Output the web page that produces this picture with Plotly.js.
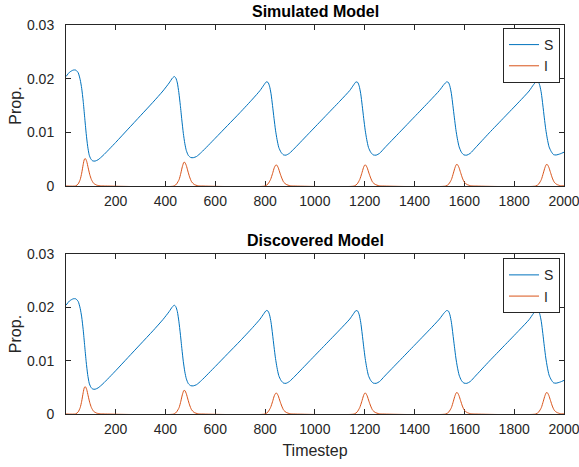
<!DOCTYPE html>
<html>
<head>
<meta charset="utf-8">
<script src="https://cdn.plot.ly/plotly-3.0.1.min.js"></script>
<style>html,body{margin:0;padding:0;background:#fff;}#chart{width:579px;height:467px;}</style>
</head>
<body>
<div id="chart"></div>
<script>
// ---- data ----
var titles = ["Simulated Model", "Discovered Model"];
var seriesNames = ["S", "I"];
var xTickVals = [200, 400, 600, 800, 1000, 1200, 1400, 1600, 1800, 2000];
var yTickVals = [0, 0.01, 0.02, 0.03];
var yTickText = ["0", "0.01", "0.02", "0.03"];

var tS = [1, 15, 30, 40, 50, 58, 64, 70, 76, 82, 88, 94, 100, 108, 118, 130, 150, 200, 250, 300, 350, 390, 415, 428, 436,
  442, 448, 454, 460, 466, 472, 478, 484, 492, 502, 512, 525, 545, 600, 650, 700, 750, 780, 795, 805,
  812, 818, 824, 830, 836, 842, 848, 855, 864, 874, 884, 898, 920, 980, 1040, 1100, 1140, 1155, 1165,
  1172, 1178, 1184, 1190, 1196, 1202, 1208, 1215, 1224, 1234, 1246, 1260, 1280, 1340, 1400, 1460, 1500, 1518, 1529,
  1536, 1542, 1548, 1554, 1560, 1566, 1572, 1579, 1588, 1598, 1610, 1624, 1644, 1700, 1760, 1820, 1860, 1878, 1890,
  1897, 1903, 1909, 1915, 1921, 1927, 1933, 1940, 1949, 1958, 1968, 1985, 2000];
var vS = [0.0204, 0.0212, 0.0216, 0.0216, 0.0211, 0.0198, 0.0182, 0.0158, 0.0128, 0.0098, 0.0074, 0.0058, 0.0051, 0.00468, 0.00465, 0.0049, 0.0057, 0.0081, 0.0106, 0.0131, 0.0156, 0.0177, 0.0192, 0.0201, 0.0204,
  0.0201, 0.0192, 0.0174, 0.0150, 0.0123, 0.0098, 0.0079, 0.0066, 0.0057, 0.0053, 0.00528, 0.0055, 0.0063, 0.0089, 0.0113, 0.0137, 0.0162, 0.0178, 0.0188, 0.0194,
  0.0193, 0.0186, 0.0172, 0.0150, 0.0126, 0.0104, 0.0087, 0.0072, 0.0063, 0.0058, 0.00575, 0.0061, 0.0071, 0.0100, 0.0129, 0.0158, 0.0178, 0.0188, 0.0194,
  0.0193, 0.0186, 0.0172, 0.0150, 0.0126, 0.0104, 0.0087, 0.0072, 0.0063, 0.0058, 0.00575, 0.0061, 0.0071, 0.0100, 0.0129, 0.0158, 0.0178, 0.0189, 0.0194,
  0.0193, 0.0186, 0.0172, 0.0150, 0.0127, 0.0105, 0.0088, 0.0073, 0.0063, 0.0058, 0.00575, 0.0061, 0.0071, 0.0099, 0.0128, 0.0157, 0.0177, 0.0189, 0.0195,
  0.0194, 0.0187, 0.0173, 0.0151, 0.0127, 0.0105, 0.0088, 0.0073, 0.0064, 0.00585, 0.00578, 0.0060, 0.0063];

var tI = [1, 40, 50, 58, 64, 70, 75, 79, 84, 90, 96, 103, 112, 125, 140, 160,
  435, 445, 455, 462, 468, 474, 478, 484, 490, 497, 505, 515, 530, 545,
  800, 812, 822, 830, 837, 843, 847, 853, 860, 867, 875, 885, 900, 915,
  1158, 1170, 1180, 1188, 1195, 1200, 1204, 1210, 1217, 1224, 1232, 1242, 1257, 1272,
  1526, 1538, 1548, 1556, 1563, 1568, 1572, 1578, 1585, 1592, 1600, 1610, 1625, 1640,
  1887, 1899, 1909, 1917, 1924, 1929, 1933, 1939, 1946, 1953, 1961, 1971, 1986, 2000];
var vI = [0, 0.00002, 0.0004, 0.0012, 0.0024, 0.0040, 0.0050, 0.0051, 0.0046, 0.0034, 0.0022, 0.0012, 0.0005, 0.00015, 0.00003, 0,
  0, 0.0004, 0.0012, 0.0024, 0.0036, 0.0044, 0.0044, 0.0038, 0.0028, 0.0017, 0.0008, 0.0003, 0.00005, 0,
  0, 0.0004, 0.0012, 0.0023, 0.0034, 0.0039, 0.0039, 0.0034, 0.0024, 0.0015, 0.0007, 0.0003, 0.00005, 0,
  0, 0.0004, 0.0012, 0.0023, 0.0034, 0.0039, 0.0039, 0.0034, 0.0024, 0.0015, 0.0007, 0.0003, 0.00005, 0,
  0, 0.0004, 0.0012, 0.0024, 0.0035, 0.0040, 0.0040, 0.0035, 0.0025, 0.0015, 0.0007, 0.0003, 0.00005, 0,
  0, 0.0004, 0.0012, 0.0024, 0.0035, 0.0040, 0.0040, 0.0035, 0.0025, 0.0015, 0.0007, 0.0003, 0.00005, 0.00002];

// ---- styling ----
var FONT = "Liberation Sans, Arial, Helvetica, sans-serif";
var AX = "#262626";
var colS = "#0072BD", colI = "#D95319";

function trace(x, y, name, color, xa, ya, lg) {
  return {x: x, y: y, name: name, type: "scatter", mode: "lines",
    line: {color: color, width: 1, shape: "spline", smoothing: 0.6},
    xaxis: xa, yaxis: ya, legend: lg, hoverinfo: "skip"};
}
var data = [
  trace(tS, vS, seriesNames[0], colS, "x", "y", "legend"),
  trace(tI, vI, seriesNames[1], colI, "x", "y", "legend"),
  trace(tS, vS, seriesNames[0], colS, "x2", "y2", "legend2"),
  trace(tI, vI, seriesNames[1], colI, "x2", "y2", "legend2")
];

function xax(anchor, withTitle) {
  var a = {anchor: anchor, domain: [0, 1], range: [1, 2000], tickmode: "array", tickvals: xTickVals,
    ticks: "inside", ticklen: 5, tickcolor: AX, showline: true, linecolor: AX, linewidth: 1,
    mirror: "ticks", showgrid: false, zeroline: false, layer: "below traces",
    ticklabeloverflow: "allow",
    tickfont: {family: FONT, size: 14, color: AX}, ticklabelstandoff: 2};
  if (withTitle) a.title = {text: "Timestep", font: {family: FONT, size: 16, color: AX}, standoff: 9};
  return a;
}
function yax(anchor, dom) {
  return {anchor: anchor, domain: dom, range: [0, 0.03], tickmode: "array", tickvals: yTickVals, ticktext: yTickText,
    ticks: "inside", ticklen: 5, tickcolor: AX, showline: true, linecolor: AX, linewidth: 1,
    mirror: "ticks", showgrid: false, zeroline: false,
    tickfont: {family: FONT, size: 14, color: AX}, ticklabelstandoff: 8,
    title: {text: "Prop.", font: {family: FONT, size: 16, color: AX}, standoff: 1}};
}
function lg(y) {
  return {x: 0.992, xanchor: "right", y: y, yanchor: "top", bgcolor: "#fff", bordercolor: AX, borderwidth: 1,
    font: {family: FONT, size: 14, color: AX}, itemwidth: 30, tracegroupgap: 0};
}

var layout = {
  width: 579, height: 467,
  margin: {l: 66, r: 15, t: 25, b: 53},
  paper_bgcolor: "#fff", plot_bgcolor: "#fff",
  font: {family: FONT, color: AX},
  showlegend: true,
  xaxis: xax("y", false),
  yaxis: yax("x", [0.5861, 1]),
  xaxis2: xax("y2", true),
  yaxis2: yax("x2", [0, 0.4113]),
  legend: lg(0.9923),
  legend2: lg(0.4003),
  annotations: [
    {text: titles[0], xref: "paper", yref: "paper", x: 0.5, y: 1, xanchor: "center", yanchor: "bottom", yshift: 3,
      showarrow: false, font: {family: FONT, size: 16, color: "#000", weight: "bold"}},
    {text: titles[1], xref: "paper", yref: "paper", x: 0.5, y: 0.4113, xanchor: "center", yanchor: "bottom", yshift: 3,
      showarrow: false, font: {family: FONT, size: 16, color: "#000", weight: "bold"}}
  ]
};

Plotly.newPlot("chart", data, layout, {staticPlot: true, displayModeBar: false});
</script>
</body>
</html>
